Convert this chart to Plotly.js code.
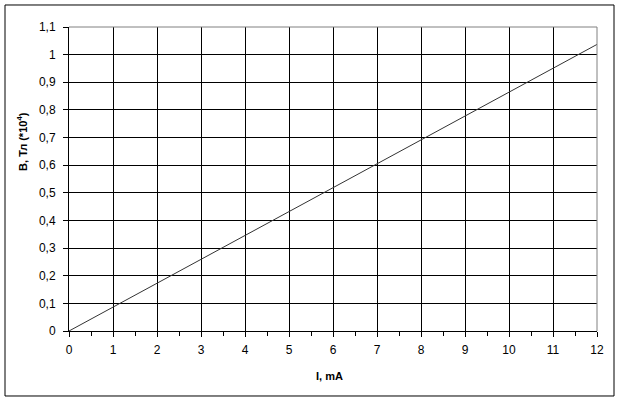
<!DOCTYPE html>
<html><head><meta charset="utf-8">
<script src="https://cdn.plot.ly/plotly-3.0.1.min.js"></script>
<style>html,body{margin:0;padding:0;background:#fff;}#chart{width:620px;height:402px;}</style>
</head><body><div id="chart"></div>
<script>
const currentMA = [0, 12];
const fieldB = [0, 1.037];
const xTickVals = [0,1,2,3,4,5,6,7,8,9,10,11,12];
const yTickVals = [0,0.1,0.2,0.3,0.4,0.5,0.6,0.7,0.8,0.9,1,1.1];
const xTitle = 'I, mA';
const yTitle = 'В, Тл (*10<sup>4</sup>)';

const font = {family: 'Liberation Sans, Arial, sans-serif', size: 12, color: '#000'};
const titleFont = {family: 'Liberation Sans, Arial, sans-serif', size: 11, color: '#000'};
const trace = {x: currentMA, y: fieldB, mode: 'lines', line: {color: '#333', width: 1}, hoverinfo: 'none'};
const layout = {
  width: 620, height: 402,
  margin: {l: 69, r: 23, t: 27, b: 71},
  paper_bgcolor: '#fff', plot_bgcolor: '#fff',
  separators: ', ',
  font: font,
  showlegend: false,
  xaxis: {range: [0, 12], tickvals: xTickVals, ticks: 'outside', ticklen: 5, tickcolor: '#000',
    showgrid: true, gridcolor: '#000', gridwidth: 1, zeroline: false, ticklabelstandoff: 3,
    showline: true, linecolor: '#000', linewidth: 1, tickfont: font,
    minor: {dtick: 0.5, ticks: 'outside', ticklen: 4, tickcolor: '#000', showgrid: false}},
  yaxis: {range: [0, 1.1], tickvals: yTickVals, ticks: 'outside', ticklen: 5, tickcolor: '#000',
    showgrid: true, gridcolor: '#000', gridwidth: 1, zeroline: false, ticklabelstandoff: 5,
    showline: true, linecolor: '#000', linewidth: 1, tickfont: font},
  shapes: [
    {type: 'rect', xref: 'paper', yref: 'paper', x0: -0.1212, x1: 1.0322, y0: -0.2138, y1: 1.0724,
     line: {color: '#000', width: 1}, layer: 'below'},
    {type: 'line', xref: 'paper', yref: 'paper', x0: 0, x1: 1, y0: 1, y1: 1, line: {color: '#808080', width: 1}},
    {type: 'line', xref: 'paper', yref: 'paper', x0: 1, x1: 1, y0: 0, y1: 1, line: {color: '#808080', width: 1}}
  ],
  annotations: [
    {text: '<b>' + xTitle + '</b>', xref: 'paper', yref: 'paper', x: 0.494, y: -0.148,
     xanchor: 'center', yanchor: 'middle', showarrow: false, font: titleFont},
    {text: '<b>' + yTitle + '</b>', xref: 'paper', yref: 'paper', x: -0.089, y: 0.622,
     xanchor: 'center', yanchor: 'middle', textangle: -90, showarrow: false, font: titleFont}
  ]
};
Plotly.newPlot('chart', [trace], layout, {staticPlot: true, displayModeBar: false});
</script></body></html>
